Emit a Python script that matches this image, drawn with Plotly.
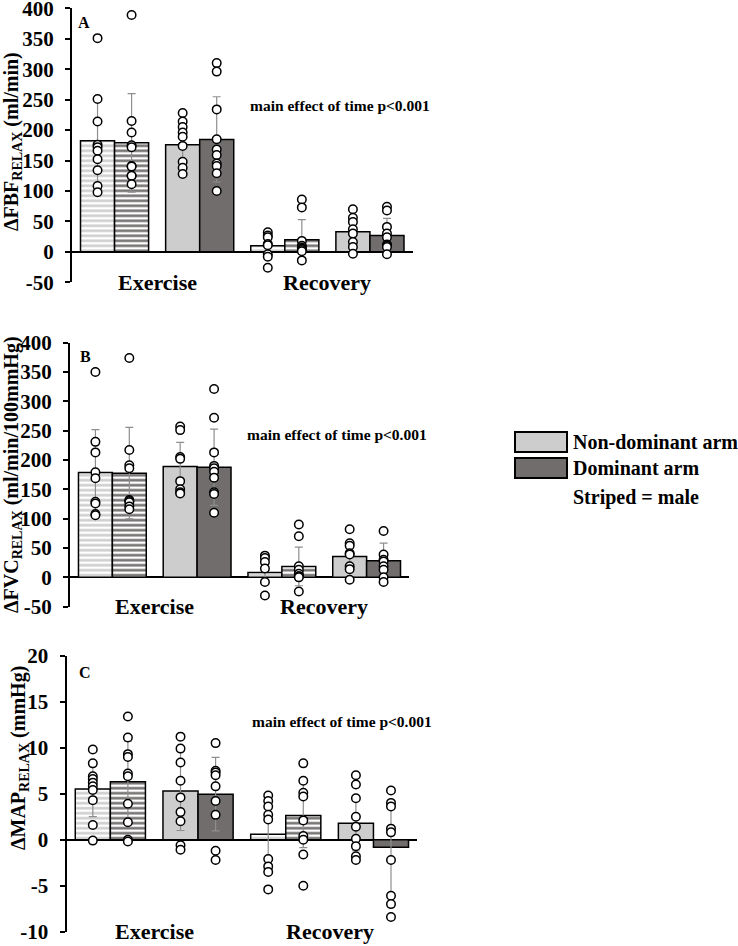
import plotly.graph_objects as go

W, H = 738, 946
FONT = "Liberation Serif"

# ---------------- data ----------------
group_x = [0, 1, 2, 3]            # Exercise-male, Exercise-female, Recovery-male, Recovery-female
category_labels = ["Exercise", "Recovery"]
category_x = [0.5, 2.5]
male_pattern = ["-", "", "-", ""]

fbf_nd_mean = [182.5, 176, 9.9, 33]
fbf_d_mean = [179, 184.7, 20, 27]
fbf_nd_sd = [69, 32, 19, 22]
fbf_d_sd = [81, 70, 33, 28]
fbf_nd_points = [[351, 251, 214, 176, 172, 166, 152, 134, 108, 98],
                 [228, 214, 205, 196, 189, 174, 148, 138, 128],
                 [32, 27, 24, 13, 11, -4, -8, -26],
                 [70, 56, 49, 37, 30, 16, 8, -3]]
fbf_d_points = [[389, 215, 196, 175, 172, 141, 140, 125, 125, 111],
                [310, 296, 234, 185, 168, 159, 145, 141, 129, 100],
                [86, 73, 18, 10, 7, 5, 3, 1, -14],
                [74, 68, 41, 30, 24, 12, 10, 8, -4]]

fvc_nd_mean = [178.7, 189, 8.5, 35.7]
fvc_d_mean = [177.6, 187.8, 18.7, 28.4]
fvc_nd_sd = [73, 41, 18, 22]
fvc_d_sd = [78, 65, 33, 30]
fvc_nd_points = [[350, 231, 213, 179, 169, 129, 126, 108, 106],
                 [257, 251, 205, 202, 164, 150, 145, 143],
                 [37, 33, 26, 15, -8, -31],
                 [82, 58, 54, 41, 39, 19, 14, -4]]
fvc_d_points = [[374, 217, 191, 186, 132, 130, 128, 121, 116],
                [321, 272, 213, 190, 186, 180, 170, 145, 142, 110],
                [90, 70, 19, 13, 6, 2, 2, 0, -24],
                [79, 39, 30, 27, 19, 13, 0, -8]]

map_nd_mean = [5.5, 5.3, 0.6, 1.8]
map_d_mean = [6.3, 4.95, 2.64, -0.83]
map_nd_sd = [3.0, 4.3, 4.2, 3.0]
map_d_sd = [4.4, 4.0, 3.5, 5.0]
map_nd_points = [[9.8, 8.3, 6.9, 6.6, 6.2, 5.8, 5.4, 4.3, 1.6, -0.1],
                 [11.2, 9.9, 8.4, 6.4, 4.6, 3.0, 2.0, -0.6, -1.1],
                 [4.8, 4.2, 3.6, 2.7, 2.2, -2.1, -2.9, -3.5, -5.4],
                 [7.0, 6.0, 4.5, 2.5, 1.4, 0.1, -0.7, -1.8, -2.2]]
map_d_points = [[13.4, 11.1, 9.3, 9.0, 7.2, 6.9, 3.9, 1.9, 0.0, -0.2],
                [10.5, 7.5, 7.3, 7.0, 5.8, 4.2, 2.7, -1.2, -2.2],
                [8.3, 6.4, 5.1, 4.7, 2.1, 0.4, 0.0, -1.6, -5.0],
                [5.35, 4.0, 3.6, 1.2, 0.8, -2.2, -6.1, -7.0, -8.4]]

fbf_ticks = [-50, 0, 50, 100, 150, 200, 250, 300, 350, 400]
map_ticks = [-10, -5, 0, 5, 10, 15, 20]

ND_COLOR = "#cdcdcd"
D_COLOR = "#716d6d"
ERR_COLOR = "#8e8e8e"

panels = [
    dict(letter="A", nd_mean=fbf_nd_mean, d_mean=fbf_d_mean, nd_sd=fbf_nd_sd, d_sd=fbf_d_sd,
         nd_pts=fbf_nd_points, d_pts=fbf_d_points, ticks=fbf_ticks, rng=[-50, 400],
         title="ΔFBF<sub>RELAX</sub> (ml/min)",
         px_x=(72, 412.5), px_y=(8.3, 282.3), title_px=(12, 142),
         letter_pos=(-0.36, 376), note_pos=(1.57, 241)),
    dict(letter="B", nd_mean=fvc_nd_mean, d_mean=fvc_d_mean, nd_sd=fvc_nd_sd, d_sd=fvc_d_sd,
         nd_pts=fvc_nd_points, d_pts=fvc_d_points, ticks=fbf_ticks, rng=[-50, 400],
         title="ΔFVC<sub>RELAX</sub> (ml/min/100mmHg)",
         px_x=(70, 409), px_y=(342.7, 606.7), title_px=(12, 475),
         letter_pos=(-0.32, 377), note_pos=(1.566, 244)),
    dict(letter="C", nd_mean=map_nd_mean, d_mean=map_d_mean, nd_sd=map_nd_sd, d_sd=map_d_sd,
         nd_pts=map_nd_points, d_pts=map_d_points, ticks=map_ticks, rng=[-10, 20],
         title="ΔMAP<sub>RELAX</sub> (mmHg)",
         px_x=(66.5, 417.3), px_y=(655.7, 931.7), title_px=(19, 758),
         letter_pos=(-0.29, 18.2), note_pos=(1.59, 12.8)),
]


def px_to_paper_x(px):
    return px / W


def px_to_paper_y(py):
    return 1 - py / H


def bold_font(size):
    return dict(family=FONT, size=size, color="black", weight="bold")


fig = go.Figure()
annotations = []
shapes = []

for i, p in enumerate(panels):
    n = i + 1
    xs = "x" if n == 1 else f"x{n}"
    ys = "y" if n == 1 else f"y{n}"
    for arm, mean, sd, pts, col, off in [
        ("Non-dominant arm", p["nd_mean"], p["nd_sd"], p["nd_pts"], ND_COLOR, -0.4),
        ("Dominant arm", p["d_mean"], p["d_sd"], p["d_pts"], D_COLOR, 0.0),
    ]:
        fig.add_trace(go.Bar(
            x=group_x, y=mean, width=0.4, offset=off, name=arm, showlegend=False,
            xaxis=xs, yaxis=ys,
            marker=dict(color=col, line=dict(color="black", width=1.5),
                        pattern=dict(shape=male_pattern, fgcolor=col, bgcolor="white",
                                     size=5, solidity=0.5, fillmode="replace")),
            error_y=dict(type="data", array=sd, visible=True, color=ERR_COLOR,
                         thickness=1.2, width=4),
        ))
        sx, sy = [], []
        for g, vals in zip(group_x, pts):
            sx += [g + off + 0.2] * len(vals)
            sy += vals
        fig.add_trace(go.Scatter(
            x=sx, y=sy, mode="markers", showlegend=False, xaxis=xs, yaxis=ys,
            marker=dict(symbol="circle", size=8.5, color="white",
                        line=dict(color="black", width=1.5)),
        ))

    x0, x1 = p["px_x"]
    y0, y1 = p["px_y"]
    xdom = [px_to_paper_x(x0), px_to_paper_x(x1)]
    ydom = [px_to_paper_y(y1), px_to_paper_y(y0)]
    xkey = "xaxis" if n == 1 else f"xaxis{n}"
    ykey = "yaxis" if n == 1 else f"yaxis{n}"
    fig.update_layout(**{
        xkey: dict(domain=xdom, range=[-0.5, 3.5], anchor=ys, showticklabels=False,
                   showline=False, zeroline=False, showgrid=False, ticks="",
                   automargin=False, fixedrange=True),
        ykey: dict(domain=ydom, range=p["rng"], anchor=xs, tickvals=p["ticks"],
                   ticktext=[f"<b>{t}</b>" for t in p["ticks"]],
                   ticks="outside", ticklen=5, tickwidth=2, tickcolor="black",
                   showline=True, linewidth=2, linecolor="black",
                   zeroline=True, zerolinecolor="black", zerolinewidth=2,
                   showgrid=False, tickfont=bold_font(21), ticklabelstandoff=7,
                   ticklabeloverflow="allow", automargin=False),
        f"yaxis{n + 3}": dict(overlaying=ys, range=p["rng"], anchor=xs, side="left",
                              tickvals=p["ticks"], ticks="inside", ticklen=5, tickwidth=2,
                              tickcolor="black", showticklabels=False, showline=False,
                              zeroline=False, showgrid=False, automargin=False),
    })

    for cx, lab in zip(category_x, category_labels):
        annotations.append(dict(x=cx, y=p["rng"][0], xref=xs, yref=ys, text=f"<b>{lab}</b>",
                                showarrow=False, xanchor="center", yanchor="middle",
                                font=bold_font(22)))
    annotations.append(dict(x=p["letter_pos"][0], y=p["letter_pos"][1], xref=xs, yref=ys,
                            text=f"<b>{p['letter']}</b>", showarrow=False, xanchor="center",
                            yanchor="middle", font=bold_font(16)))
    annotations.append(dict(x=p["note_pos"][0], y=p["note_pos"][1], xref=xs, yref=ys,
                            text="<b>main effect of time p<0.001</b>", showarrow=False,
                            xanchor="left", yanchor="middle", font=bold_font(15.5)))
    tx, ty = p["title_px"]
    annotations.append(dict(x=px_to_paper_x(tx), y=px_to_paper_y(ty), xref="paper", yref="paper",
                            text=f"<b>{p['title']}</b>", textangle=-90, showarrow=False,
                            xanchor="center", yanchor="middle", font=bold_font(20)))

# legend (drawn manually to match the large swatches)
legend_items = [("Non-dominant arm", ND_COLOR), ("Dominant arm", D_COLOR)]
for k, (lab, col) in enumerate(legend_items):
    top = 432 + 26 * k
    shapes.append(dict(type="rect", xref="paper", yref="paper",
                       x0=px_to_paper_x(515), x1=px_to_paper_x(567),
                       y0=px_to_paper_y(top + 20), y1=px_to_paper_y(top),
                       fillcolor=col, line=dict(color="black", width=2)))
    annotations.append(dict(x=px_to_paper_x(571), y=px_to_paper_y(top + 10), xref="paper",
                            yref="paper", text=f"<b>{lab}</b>", showarrow=False,
                            xanchor="left", yanchor="middle", font=bold_font(20)))
annotations.append(dict(x=px_to_paper_x(571), y=px_to_paper_y(498), xref="paper", yref="paper",
                        text="<b>Striped = male</b>", showarrow=False, xanchor="left",
                        yanchor="middle", font=bold_font(20)))

fig.update_layout(
    template="none",
    width=W, height=H, margin=dict(l=0, r=0, t=0, b=0, autoexpand=False),
    paper_bgcolor="white", plot_bgcolor="rgba(0,0,0,0)",
    barmode="overlay", showlegend=False,
    annotations=annotations, shapes=shapes,
    font=dict(family=FONT, color="black"),
)

# remove the browser's default 8 px body margin so the figure fills the window exactly
fig.write_html("out.html", config={"displayModeBar": False},
               post_script="document.body.style.margin='0px';")
